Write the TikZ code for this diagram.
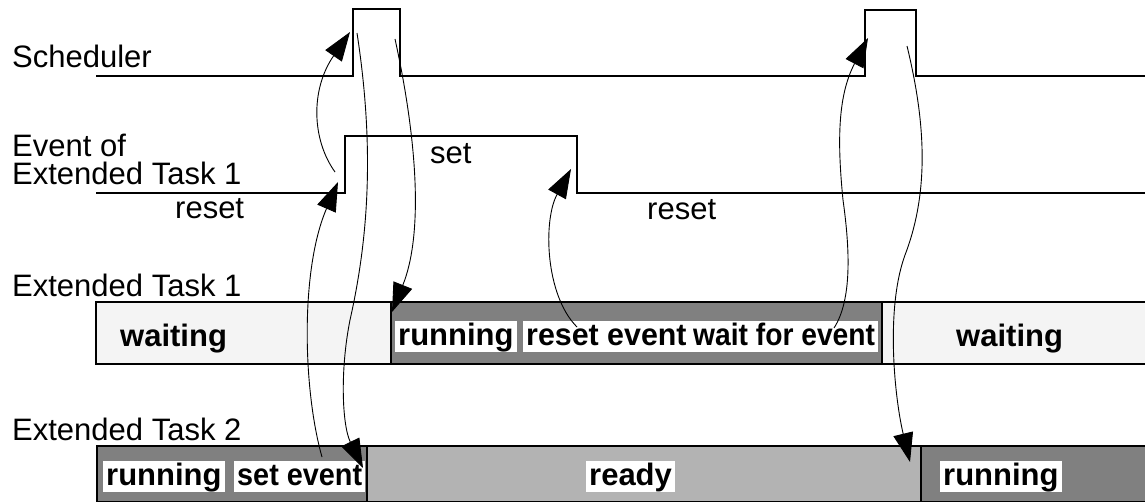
\documentclass[tikz,border=0pt]{standalone}
\usepackage{fontspec}
\setmainfont{Liberation Sans}
\usetikzlibrary{arrows.meta}
\definecolor{waitgray}{HTML}{F4F4F4}
\definecolor{rungray}{HTML}{808080}
\definecolor{readygray}{HTML}{B3B3B3}
\tikzset{
  sigline/.style={line width=1.5pt},
  barline/.style={line width=1.6pt},
  lbl/.style={anchor=base west, inner sep=0pt, font=\fontsize{31}{31}\selectfont},
  statetext/.style={anchor=base west, inner sep=0pt, font=\fontsize{31}{31}\selectfont\bfseries},
  statetag/.style={statetext, fill=white, inner xsep=3pt, inner ysep=2.5pt,
                   text height=22pt, text depth=4pt},
  flow/.style={line width=0.9pt, -{Triangle[length=29pt,width=20pt]}},
}
\begin{document}
\begin{tikzpicture}[x=1pt,y=-1pt]
\useasboundingbox (0,0) rectangle (1145,503);
\clip (0,0) rectangle (1145,503);

% ---- state bars ----
% Extended Task 1
\fill[waitgray] (96,302) rectangle (391,364);
\fill[rungray]  (391,302) rectangle (882,364);
\fill[waitgray] (882,302) rectangle (1150,364);
\draw[barline] (1150,302) -- (96,302) -- (96,364) -- (1150,364);
\draw[barline] (391,302) -- (391,364);
\draw[barline] (882,302) -- (882,364);
% Extended Task 2
\fill[rungray]   (97,446) rectangle (367,501.5);
\fill[readygray] (367,446) rectangle (921,501.5);
\fill[rungray]   (921,446) rectangle (1150,501.5);
\draw[barline] (1150,446) -- (97,446) -- (97,501.5) -- (1150,501.5);
\draw[barline] (367,446) -- (367,501.5);
\draw[barline] (921,446) -- (921,501.5);

% ---- signals ----
\draw[sigline] (96,76) -- (353,76) -- (353,9) -- (400,9) -- (400,76)
  -- (865,76) -- (865,10) -- (916,10) -- (916,76) -- (1150,76);
\draw[sigline] (96,193) -- (345,193) -- (345,136) -- (577,136) -- (577,193)
  -- (1150,193);

% ---- row labels ----
\node[lbl] (schedlbl) at (12,67) {Scheduler};
\node[lbl] (evlblA) at (12,156) {Event of};
\node[lbl] (evlblB) at (12,184) {Extended Task 1};
\node[lbl] (resetA) at (175,218) {reset};
\node[lbl] (setlbl) at (430,163) {set};
\node[lbl] (resetB) at (647,219) {reset};
\node[lbl] (taskAlbl) at (12,296) {Extended Task 1};
\node[lbl] (taskBlbl) at (12,440) {Extended Task 2};

% ---- state labels ----
\node[statetext] (waitA) at (120,346) {waiting};
\node[statetext] (waitB) at (956,346) {waiting};
\node[statetag] (runA) at (395,345) {running};
\node[statetag] (resetev) at (523,345) {\scalebox{0.98}[1]{reset event}};
\node[statetag] (waitev) at (690,345) {\scalebox{0.91}[1]{wait for event}};
\node[statetag] (runB) at (103,485) {running};
\node[statetag] (setev) at (234,485) {\scalebox{0.93}[1]{set event}};
\node[statetag] (ready) at (586,485) {ready};
\node[statetag] (runC) at (940,485) {running};

% ---- transition points ----
\coordinate (evrise)   at (335,172);
\coordinate (schedin)  at (350,32);
\coordinate (setfrom)  at (322,457);
\coordinate (evset)    at (338,182);
\coordinate (schedoutA) at (357,33);
\coordinate (readyin)  at (363,468);
\coordinate (schedoutB) at (395,39);
\coordinate (runin)    at (392,312);
\coordinate (resetfrom) at (577,327);
\coordinate (evfall)   at (571,169);
\coordinate (waitfrom) at (834,328);
\coordinate (schedinB) at (868,38);
\coordinate (schedoutC) at (907,46);
\coordinate (runinB)   at (910,462);

% ---- transitions ----
\draw[flow] (evrise) .. controls (312,140) and (310,90) .. (schedin);
\draw[flow] (setfrom) .. controls (303,390) and (300,270) .. (evset);
\draw[flow] (schedoutA) .. controls (375,150) and (368,240) .. (350,320)
  .. controls (340,370) and (342,425) .. (readyin);
\draw[flow] (schedoutB) .. controls (415,130) and (425,230) .. (runin);
\draw[flow] (resetfrom) .. controls (545,295) and (543,220) .. (evfall);
\draw[flow] (waitfrom) .. controls (852,300) and (850,250) .. (843,200)
  .. controls (837,140) and (838,95) .. (schedinB);
\draw[flow] (schedoutC) .. controls (925,120) and (930,190) .. (905,255)
  .. controls (885,310) and (895,400) .. (runinB);
\end{tikzpicture}
\end{document}
